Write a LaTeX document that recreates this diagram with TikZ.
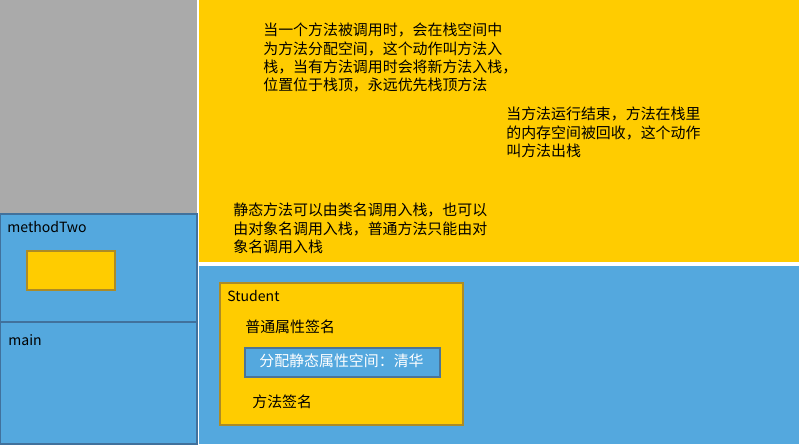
\documentclass[tikz,border=0pt]{standalone}
\usepackage{fontspec}
\usepackage{tikz}
\usetikzlibrary{positioning}
\newfontfamily\cjk{Noto Sans CJK SC}
\definecolor{stackgray}{RGB}{170,170,170}
\definecolor{stackblue}{RGB}{84,168,222}
\definecolor{stackyellow}{RGB}{255,204,0}
\definecolor{bluerim}{RGB}{65,113,156}
\definecolor{yellowrim}{RGB}{191,144,0}
\tikzset{
    panelG/.style={fill=stackgray, draw=none},
    panelY/.style={fill=stackyellow, draw=none},
    panelB/.style={fill=stackblue, draw=bluerim, line width=0.6pt},
    objbox/.style={fill=stackyellow, draw=yellowrim!70!gray, line width=0.6pt},
    note/.style={font=\cjk\fontsize{8.5pt}{10.3pt}\selectfont, align=left, anchor=north west, inner sep=0pt},
    tag/.style={font=\cjk\fontsize{8pt}{10pt}\selectfont, anchor=north west, inner sep=0pt},
}
\begin{document}
\begin{tikzpicture}[x=0.02cm, y=-0.02cm]
    \useasboundingbox (0,0) rectangle (804,446);
    % stack area
    \draw[panelG] (0,0) rectangle (197,214);
    \draw[panelB] (0,214) rectangle (197,322);
    \draw[panelB] (0,322) rectangle (197,444);
    \draw[objbox] (27,251) rectangle (115,290);
    \node[tag] (mtwo) at (7,221) {methodTwo};
    \node[tag] (mmain) at (8,334) {main};
    % notes
    \draw[panelY] (199,0) rectangle (799,262);
    \node[note] (push) at (263,23) {当一个方法被调用时，会在栈空间中\\为方法分配空间，这个动作叫方法入\\栈，当有方法调用时会将新方法入栈，\\位置位于栈顶，永远优先栈顶方法};
    \node[note] (pop) at (506,107) {当方法运行结束，方法在栈里\\的内存空间被回收，这个动作\\叫方法出栈};
    \node[note] (static) at (233,203) {静态方法可以由类名调用入栈，也可以\\由对象名调用入栈，普通方法只能由对\\象名调用入栈};
    % method area
    \draw[panelB, draw=none] (199,266) rectangle (799,444);
    \draw[objbox] (220,283) rectangle (463,425);
    \node[tag] (student) at (227,290) {Student};
    \node[note] (attr) at (245,320) {普通属性签名};
    \draw[panelB, draw=bluerim!80!gray] (245,348) rectangle (440,377);
    \node[note, text=white] (sattr) at (259,354) {分配静态属性空间：清华};
    \node[note] (msig) at (252,395) {方法签名};
\end{tikzpicture}
\end{document}
